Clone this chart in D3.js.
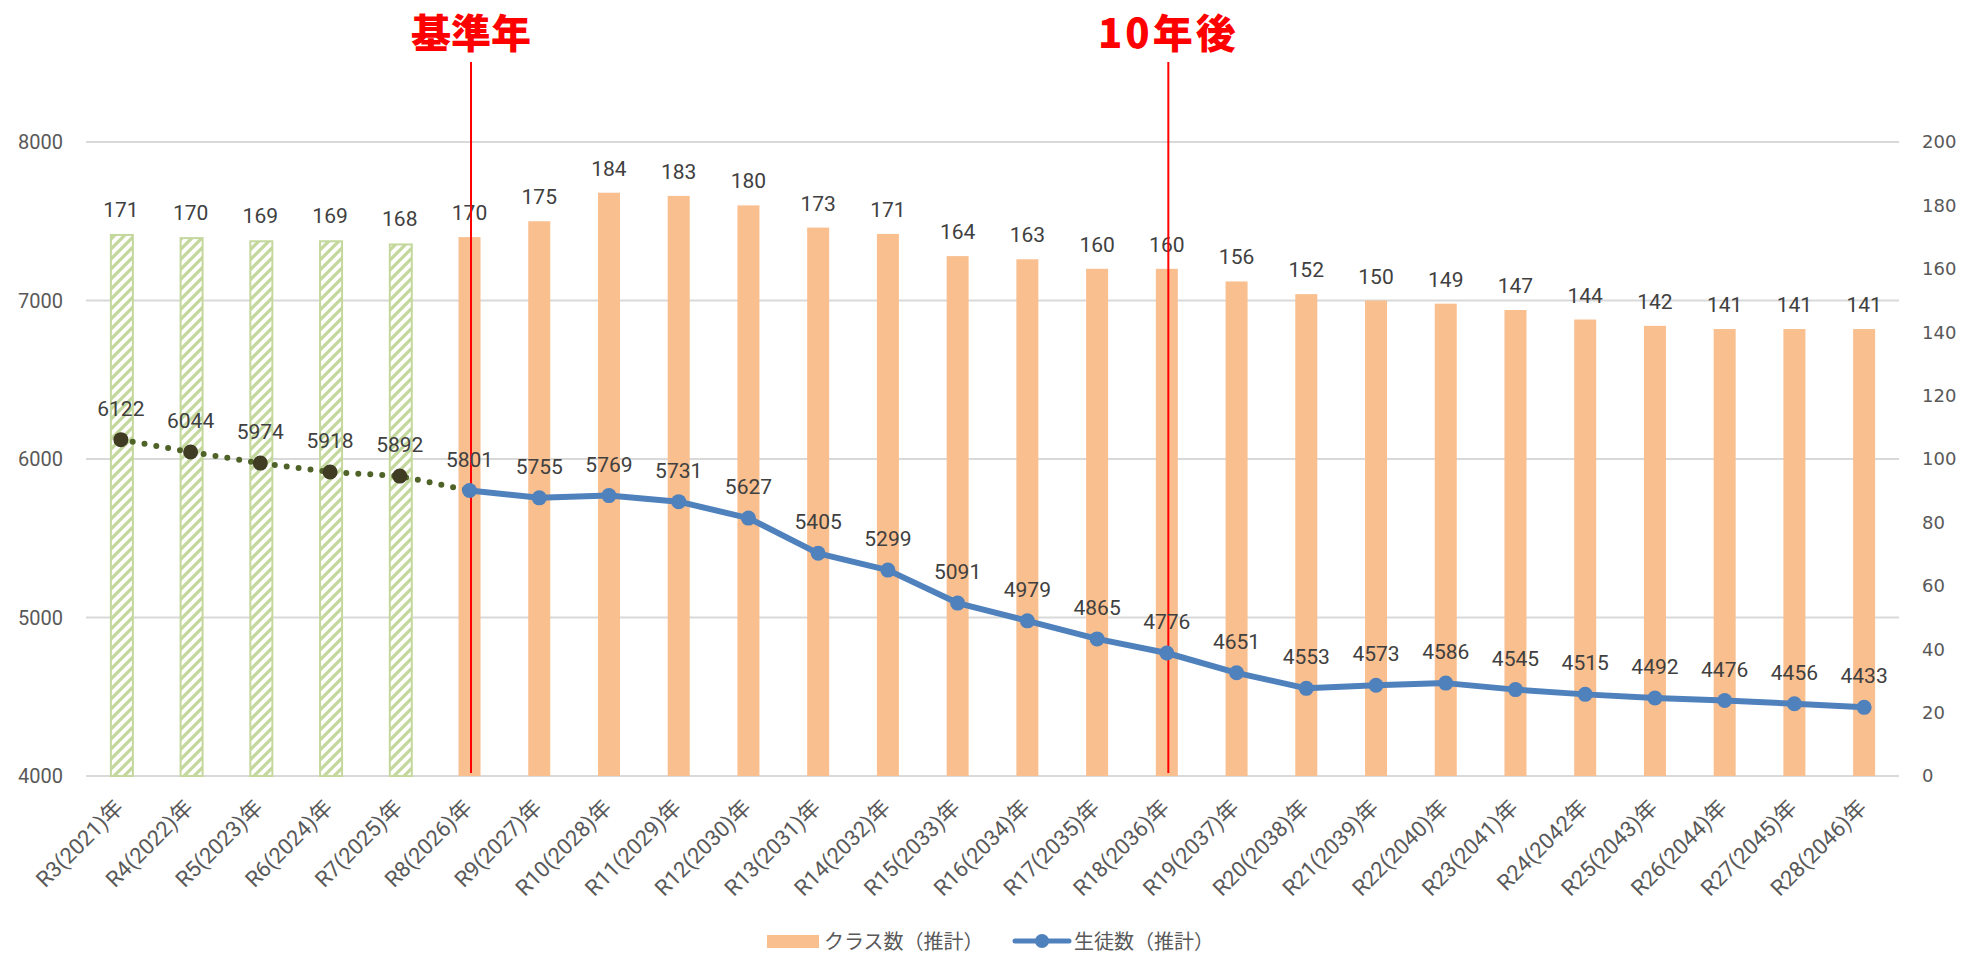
<!DOCTYPE html>
<html lang="ja">
<head>
<meta charset="utf-8">
<script src="https://cdn.jsdelivr.net/npm/d3@7"></script>
<style>
  html, body { margin: 0; padding: 0; background: #fff; }
  svg { display: block; }
  .lbl { font-family: Roboto, "Noto Sans", sans-serif; fill: #404040; }
  .ax  { font-family: Roboto, "Noto Sans CJK JP", sans-serif; fill: #595959; }
  .jp  { font-family: "Noto Sans CJK JP", "Noto Sans", sans-serif; }
</style>
</head>
<body>
<svg id="chart" width="1982" height="955"></svg>
<script>
// ---- data ----
const years = [
  "R3(2021)年", "R4(2022)年", "R5(2023)年", "R6(2024)年", "R7(2025)年", "R8(2026)年",
  "R9(2027)年", "R10(2028)年", "R11(2029)年", "R12(2030)年", "R13(2031)年", "R14(2032)年",
  "R15(2033)年", "R16(2034)年", "R17(2035)年", "R18(2036)年", "R19(2037)年", "R20(2038)年",
  "R21(2039)年", "R22(2040)年", "R23(2041)年", "R24(2042年", "R25(2043)年", "R26(2044)年",
  "R27(2045)年", "R28(2046)年"
];
const classes = [171, 170, 169, 169, 168, 170, 175, 184, 183, 180, 173, 171, 164, 163, 160, 160,
                 156, 152, 150, 149, 147, 144, 142, 141, 141, 141];
const students = [6122, 6044, 5974, 5918, 5892, 5801, 5755, 5769, 5731, 5627, 5405, 5299, 5091,
                  4979, 4865, 4776, 4651, 4553, 4573, 4586, 4545, 4515, 4492, 4476, 4456, 4433];
const actualCount = 5;              // R3..R7 are actual figures (hatched bars, dotted line)
const leftTicks = [4000, 5000, 6000, 7000, 8000];
const rightTicks = [0, 20, 40, 60, 80, 100, 120, 140, 160, 180, 200];
const markers = [
  { year: "R8(2026)年", text: "基準年" },
  { year: "R18(2036)年", text: "10年後" }
];
const legendItems = ["クラス数（推計）", "生徒数（推計）"];

// ---- colors ----
const ORANGE = "#f9bf8f", GREEN = "#c4d89d", BLUE = "#4f81bd";
const DOT = "#4f6228", DARK = "#403c24", GRID = "#d9d9d9";

const svg = d3.select("#chart");
const L = 86, R = 1899, T = 142, B = 776;

const x = d3.scaleBand().domain(years).range([L, R]).padding(0);
const cx = d => x(d) + x.bandwidth() / 2;
const yL = d3.scaleLinear().domain([4000, 8000]).range([B, T]);
const yR = d3.scaleLinear().domain([0, 200]).range([B, T]);
const barW = 22;

// hatch pattern for the actual-year bars
const defs = svg.append("defs");
const pat = defs.append("pattern").attr("id", "hatch")
  .attr("patternUnits", "userSpaceOnUse").attr("width", 10).attr("height", 10);
pat.append("rect").attr("width", 10).attr("height", 10).attr("fill", "#fff");
pat.append("path").attr("d", "M-2,2 L2,-2 M0,10 L10,0 M8,12 L12,8")
  .attr("stroke", GREEN).attr("stroke-width", 3.2);

// gridlines (left axis)
svg.append("g").selectAll("line").data(leftTicks).enter().append("line")
  .attr("x1", L).attr("x2", R).attr("y1", d => yL(d)).attr("y2", d => yL(d))
  .attr("stroke", GRID).attr("stroke-width", 2);

// left axis labels
svg.append("g").selectAll("text").data(leftTicks).enter().append("text")
  .attr("class", "ax").attr("x", 63).attr("y", d => yL(d)).attr("dy", "0.35em")
  .attr("text-anchor", "end").attr("font-size", 20).text(d => d);

// right axis labels
svg.append("g").selectAll("text").data(rightTicks).enter().append("text")
  .attr("font-family", "'DejaVu Sans', sans-serif").attr("fill", "#595959")
  .attr("x", 1922).attr("y", d => yR(d)).attr("dy", "0.36em")
  .attr("font-size", 18).text(d => d);

// bars
const rows = years.map((y, i) => ({ year: y, cls: classes[i], stu: students[i], actual: i < actualCount }));
svg.append("g").selectAll("rect").data(rows).enter().append("rect")
  .attr("x", d => cx(d.year) - barW / 2 + (d.actual ? 1 : 0))
  .attr("width", barW)
  .attr("y", d => yR(d.cls) + (d.actual ? 1 : 0))
  .attr("height", d => yR(0) - yR(d.cls) - (d.actual ? 1 : 0))
  .attr("fill", d => d.actual ? "url(#hatch)" : ORANGE)
  .attr("stroke", d => d.actual ? GREEN : "none")
  .attr("stroke-width", 2);

// bar labels
svg.append("g").selectAll("text").data(rows).enter().append("text")
  .attr("class", "lbl").attr("font-size", 21).attr("text-anchor", "middle")
  .attr("x", d => cx(d.year)).attr("y", d => yR(d.cls) - 17).text(d => d.cls);

// red reference lines and titles
markers.forEach(m => {
  const mx = cx(m.year) + 1.5;
  svg.append("line").attr("x1", mx).attr("x2", mx).attr("y1", 62).attr("y2", 773)
    .attr("stroke", "#ff0000").attr("stroke-width", 2);
  svg.append("text").attr("class", "jp").attr("x", mx).attr("y", 48)
    .attr("text-anchor", "middle").attr("font-size", 40).attr("font-weight", 900)
    .attr("fill", "#ff0000").attr("letter-spacing", m.text.startsWith("10") ? 3 : 0)
    .text(m.text);
});

// student line: dotted for actual years, solid for estimates
const line = d3.line().x(d => cx(d.year)).y(d => yL(d.stu));
const past = rows.slice(0, actualCount + 1);
const future = rows.slice(actualCount);

svg.append("path").datum(past).attr("d", line).attr("fill", "none")
  .attr("stroke", DOT).attr("stroke-width", 6).attr("stroke-linecap", "round")
  .attr("stroke-dasharray", "0 12");
svg.append("path").datum(future).attr("d", line).attr("fill", "none")
  .attr("stroke", BLUE).attr("stroke-width", 6).attr("stroke-linejoin", "round");

svg.append("g").selectAll("circle").data(rows).enter().append("circle")
  .attr("cx", d => cx(d.year)).attr("cy", d => yL(d.stu)).attr("r", 7.5)
  .attr("fill", d => d.actual ? DARK : BLUE);

// line labels
svg.append("g").selectAll("text").data(rows).enter().append("text")
  .attr("class", "lbl").attr("font-size", 21).attr("text-anchor", "middle")
  .attr("x", d => cx(d.year)).attr("y", d => yL(d.stu) - 24).text(d => d.stu);

// x-axis labels, rotated
svg.append("g").selectAll("text").data(years).enter().append("text")
  .attr("class", "ax").attr("font-size", 22).attr("text-anchor", "end")
  .attr("transform", d => `translate(${cx(d) + 4},${809}) rotate(-45)`)
  .text(d => d);

// legend
const lg = svg.append("g").attr("class", "jp");
lg.append("rect").attr("x", 767).attr("y", 935).attr("width", 52).attr("height", 13).attr("fill", ORANGE);
lg.append("text").attr("x", 824).attr("y", 949).attr("font-size", 20).attr("fill", "#595959").text(legendItems[0]);
lg.append("line").attr("x1", 1015).attr("x2", 1069).attr("y1", 941).attr("y2", 941)
  .attr("stroke", BLUE).attr("stroke-width", 5).attr("stroke-linecap", "round");
lg.append("circle").attr("cx", 1042).attr("cy", 941).attr("r", 7).attr("fill", BLUE);
lg.append("text").attr("x", 1074).attr("y", 949).attr("font-size", 20).attr("fill", "#595959").text(legendItems[1]);
</script>
</body>
</html>
